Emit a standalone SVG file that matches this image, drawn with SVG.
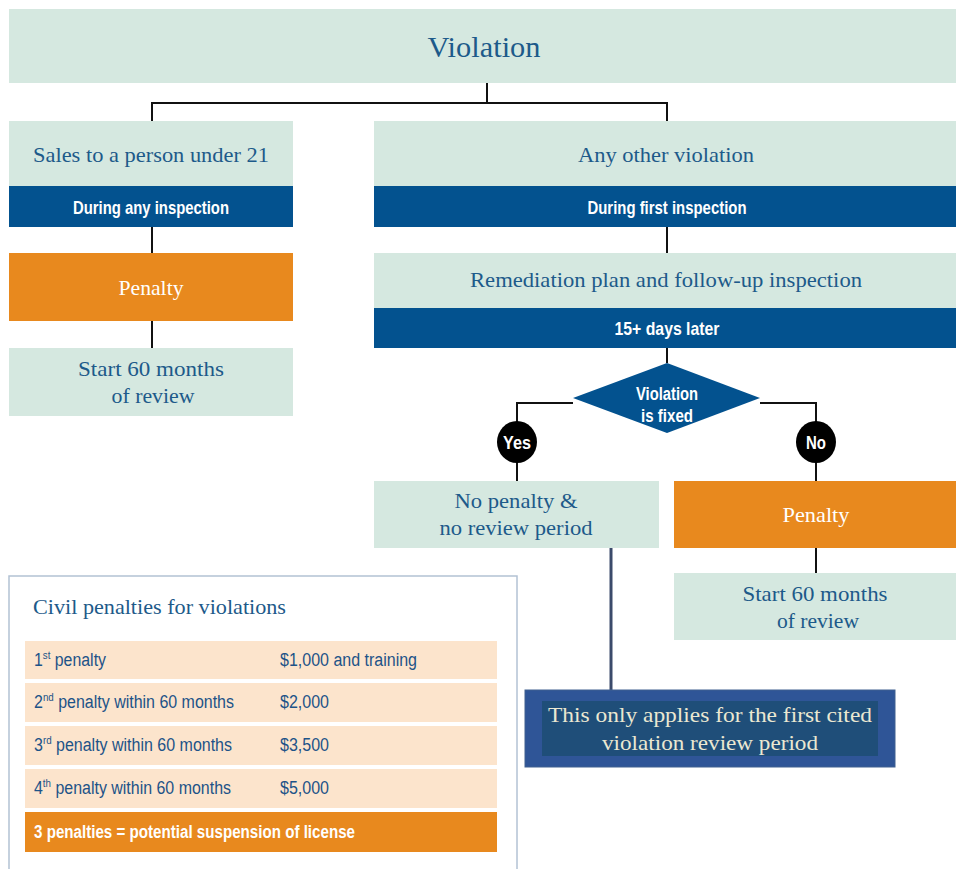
<svg xmlns="http://www.w3.org/2000/svg" width="956" height="869" viewBox="0 0 956 869">
<style>
.box{fill:#d5e8e0}
.bar{fill:#03528f}
.pen{fill:#e8891e}
.conn{stroke:#111;stroke-width:2;fill:none}
.serif{font-family:"Liberation Serif","DejaVu Serif",serif;fill:#1d5a8a;text-anchor:middle}
.wserif{font-family:"Liberation Serif","DejaVu Serif",serif;fill:#ffffff;text-anchor:middle}
.cond{font-family:"Liberation Sans Narrow","Liberation Sans",Arial,sans-serif;font-weight:bold;fill:#ffffff;text-anchor:middle}
.row{fill:#fce4cc}
.rt{font-family:"Liberation Sans Narrow","Liberation Sans",Arial,sans-serif;fill:#1d5388;font-size:18px}
.sup{font-size:11px}
</style>
<rect width="956" height="869" fill="#ffffff"/>

<g id="connectors">
<polyline class="conn" points="487,83 487,103"/>
<polyline class="conn" points="152,121 152,103 667,103 667,121"/>
<line class="conn" x1="152" y1="227" x2="152" y2="253"/>
<line class="conn" x1="152" y1="321" x2="152" y2="348"/>
<line class="conn" x1="667" y1="227" x2="667" y2="253"/>
<line class="conn" x1="667" y1="348" x2="667" y2="363"/>
<polyline class="conn" points="573,403 517,403 517,422"/>
<polyline class="conn" points="760,403 816,403 816,422"/>
<line class="conn" x1="517" y1="462" x2="517" y2="481"/>
<line class="conn" x1="816" y1="462" x2="816" y2="481"/>
<line class="conn" x1="816" y1="548" x2="816" y2="573"/>
<line x1="611" y1="543" x2="611" y2="690" stroke="#3b4a6b" stroke-width="3"/>
</g>

<g id="violation">
<rect class="box" x="9" y="9" width="947" height="74"/>
<text class="serif" x="484" y="57" font-size="30" textLength="113" lengthAdjust="spacingAndGlyphs">Violation</text>
</g>

<g id="sales">
<rect class="box" x="9" y="121" width="284" height="65"/>
<text class="serif" x="151" y="162" font-size="21" textLength="236" lengthAdjust="spacingAndGlyphs">Sales to a person under 21</text>
<rect class="bar" x="9" y="186" width="284" height="41"/>
<text class="cond" x="151" y="214" font-size="19" textLength="156" lengthAdjust="spacingAndGlyphs">During any inspection</text>
</g>

<g id="other">
<rect class="box" x="374" y="121" width="582" height="65"/>
<text class="serif" x="666" y="162" font-size="21" textLength="176" lengthAdjust="spacingAndGlyphs">Any other violation</text>
<rect class="bar" x="374" y="186" width="582" height="41"/>
<text class="cond" x="667" y="214" font-size="19" textLength="159" lengthAdjust="spacingAndGlyphs">During first inspection</text>
</g>

<g id="penalty-left">
<rect class="pen" x="9" y="253" width="284" height="68"/>
<text class="wserif" x="151" y="295" font-size="21" textLength="65" lengthAdjust="spacingAndGlyphs">Penalty</text>
</g>

<g id="review-left">
<rect class="box" x="9" y="348" width="284" height="68"/>
<text class="serif" x="151" y="376" font-size="21" textLength="146" lengthAdjust="spacingAndGlyphs">Start 60 months</text>
<text class="serif" x="153" y="403" font-size="21" textLength="83" lengthAdjust="spacingAndGlyphs">of review</text>
</g>

<g id="remediation">
<rect class="box" x="374" y="253" width="582" height="55"/>
<text class="serif" x="666" y="287" font-size="21" textLength="392" lengthAdjust="spacingAndGlyphs">Remediation plan and follow-up inspection</text>
<rect class="bar" x="374" y="308" width="582" height="40"/>
<text class="cond" x="667" y="335" font-size="19" textLength="105" lengthAdjust="spacingAndGlyphs">15+ days later</text>
</g>

<g id="decision">
<polygon points="667,363 760,398 667,433 573,398" fill="#03528f"/>
<text class="cond" x="667" y="400" font-size="18" textLength="62" lengthAdjust="spacingAndGlyphs">Violation</text>
<text class="cond" x="667" y="422" font-size="18" textLength="52" lengthAdjust="spacingAndGlyphs">is fixed</text>
</g>

<g id="yes">
<ellipse cx="517" cy="442" rx="20" ry="21" fill="#000"/>
<text class="cond" x="517" y="449" font-size="18" textLength="28" lengthAdjust="spacingAndGlyphs">Yes</text>
</g>

<g id="no">
<ellipse cx="816" cy="442" rx="20" ry="21" fill="#000"/>
<text class="cond" x="816" y="449" font-size="18" textLength="20" lengthAdjust="spacingAndGlyphs">No</text>
</g>

<g id="no-penalty">
<rect class="box" x="374" y="481" width="285" height="67"/>
<text class="serif" x="516" y="508" font-size="21" textLength="123" lengthAdjust="spacingAndGlyphs">No penalty &amp;</text>
<text class="serif" x="516" y="535" font-size="21" textLength="153" lengthAdjust="spacingAndGlyphs">no review period</text>
</g>

<g id="penalty-right">
<rect class="pen" x="674" y="481" width="282" height="67"/>
<text class="wserif" x="816" y="522" font-size="21" textLength="67" lengthAdjust="spacingAndGlyphs">Penalty</text>
</g>

<g id="review-right">
<rect class="box" x="674" y="573" width="282" height="67"/>
<text class="serif" x="815" y="601" font-size="21" textLength="145" lengthAdjust="spacingAndGlyphs">Start 60 months</text>
<text class="serif" x="818" y="628" font-size="21" textLength="82" lengthAdjust="spacingAndGlyphs">of review</text>
</g>

<g id="civil-penalties">
<rect x="9" y="576" width="508" height="300" fill="#ffffff" stroke="#b3c2d4" stroke-width="1.5"/>
<text x="33" y="614" font-family="Liberation Serif,DejaVu Serif,serif" font-size="21" fill="#1d5a8a" textLength="253" lengthAdjust="spacingAndGlyphs">Civil penalties for violations</text>
<rect class="row" x="25" y="641" width="472" height="38"/>
<rect class="row" x="25" y="683" width="472" height="39"/>
<rect class="row" x="25" y="726" width="472" height="39"/>
<rect class="row" x="25" y="769" width="472" height="39"/>
<rect class="pen" x="25" y="812" width="472" height="40"/>
<text class="rt" x="34" y="666" textLength="72" lengthAdjust="spacingAndGlyphs">1<tspan class="sup" dy="-7">st</tspan><tspan dy="7"> penalty</tspan></text>
<text class="rt" x="280" y="666" textLength="137" lengthAdjust="spacingAndGlyphs">$1,000 and training</text>
<text class="rt" x="34" y="708" textLength="200" lengthAdjust="spacingAndGlyphs">2<tspan class="sup" dy="-7">nd</tspan><tspan dy="7"> penalty within 60 months</tspan></text>
<text class="rt" x="280" y="708" textLength="49" lengthAdjust="spacingAndGlyphs">$2,000</text>
<text class="rt" x="34" y="751" textLength="198" lengthAdjust="spacingAndGlyphs">3<tspan class="sup" dy="-7">rd</tspan><tspan dy="7"> penalty within 60 months</tspan></text>
<text class="rt" x="280" y="751" textLength="49" lengthAdjust="spacingAndGlyphs">$3,500</text>
<text class="rt" x="34" y="794" textLength="197" lengthAdjust="spacingAndGlyphs">4<tspan class="sup" dy="-7">th</tspan><tspan dy="7"> penalty within 60 months</tspan></text>
<text class="rt" x="280" y="794" textLength="49" lengthAdjust="spacingAndGlyphs">$5,000</text>
<text class="rt" x="34" y="838" style="fill:#ffffff;font-weight:bold" textLength="321" lengthAdjust="spacingAndGlyphs">3 penalties = potential suspension of license</text>
</g>

<g id="note">
<rect x="525" y="690" width="370" height="77" fill="#2f5597" stroke="#41608f" stroke-width="1"/>
<rect x="542" y="701" width="336" height="55" fill="#1f4e79"/>
<text x="710" y="722" font-family="Liberation Serif,DejaVu Serif,serif" font-size="21" fill="#ebe8d2" text-anchor="middle" textLength="324" lengthAdjust="spacingAndGlyphs">This only applies for the first cited</text>
<text x="710" y="750" font-family="Liberation Serif,DejaVu Serif,serif" font-size="21" fill="#ebe8d2" text-anchor="middle" textLength="216" lengthAdjust="spacingAndGlyphs">violation review period</text>
</g>
</svg>
